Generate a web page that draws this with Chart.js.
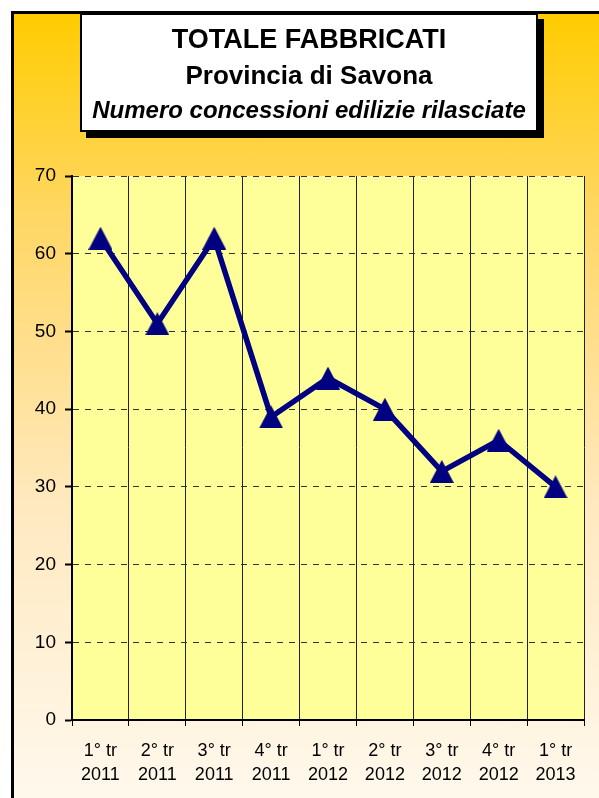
<!DOCTYPE html>
<html>
<head>
<meta charset="utf-8">
<script src="https://cdn.jsdelivr.net/npm/chart.js@4.4.1/dist/chart.umd.min.js"></script>
<style>
  html, body { margin: 0; padding: 0; background: #fff; }
  body { width: 599px; height: 798px; position: relative; overflow: hidden; font-family: "Liberation Sans", Arial, sans-serif; }
  #frame {
    position: absolute; left: 11px; top: 11px; width: 620px; height: 820px;
    border: 3px solid #000;
    background: linear-gradient(to bottom, #ffcc00 0%, #ffd766 25%, #ffe9bf 60%, #fffaf2 100%);
  }
  #title {
    position: absolute; left: 80px; top: 13px; width: 454px; height: 115px;
    background: #fff; border: 2px solid #000; box-shadow: 6px 6px 0 #000;
    text-align: center; color: #000;
  }
  #title .t1 { font-weight: bold; font-size: 27px; margin-top: 8px; line-height: 32px; }
  #title .t2 { font-weight: bold; font-size: 26px; margin-top: 4px; line-height: 32px; }
  #title .t3 { font-weight: bold; font-style: italic; font-size: 24px; margin-top: 3px; line-height: 32px; }
  #wrap { position: absolute; left: 0; top: 0; width: 599px; height: 798px; }
</style>
</head>
<body>
<div id="frame"></div>
<div id="wrap"><canvas id="chart" width="599" height="798"></canvas></div>
<div id="title">
  <div class="t1">TOTALE FABBRICATI</div>
  <div class="t2">Provincia di Savona</div>
  <div class="t3">Numero concessioni edilizie rilasciate</div>
</div>
<script>
  const quarters = ["1° tr", "2° tr", "3° tr", "4° tr", "1° tr", "2° tr", "3° tr", "4° tr", "1° tr"];
  const years = ["2011", "2011", "2011", "2011", "2012", "2012", "2012", "2012", "2013"];
  const concessioni = [62, 51, 62, 39, 44, 40, 32, 36, 30];
  const yTicks = [0, 10, 20, 30, 40, 50, 60, 70];

  const labels = quarters.map((q, i) => [q, years[i]]);

  // Excel-like triangle marker, centred on the point
  const tri = document.createElement("canvas");
  tri.width = 24;
  tri.height = 23;
  {
    const c = tri.getContext("2d");
    c.fillStyle = "#000080";
    c.beginPath();
    c.moveTo(12, 0);
    c.lineTo(24, 23);
    c.lineTo(0, 23);
    c.closePath();
    c.fill();
  }

  const plotBg = {
    id: "plotBg",
    beforeDraw(chart) {
      const { ctx, chartArea: a } = chart;
      ctx.save();
      ctx.fillStyle = "#ffff99";
      ctx.fillRect(a.left, a.top, a.right - a.left, a.bottom - a.top);
      ctx.restore();
    },
  };

  new Chart(document.getElementById("chart"), {
    type: "line",
    data: {
      labels,
      datasets: [{
        data: concessioni,
        borderColor: "#000080",
        backgroundColor: "#000080",
        borderWidth: 5.5,
        pointStyle: tri,
        pointRadius: 12,
        pointHoverRadius: 12,
        tension: 0,
      }],
    },
    options: {
      responsive: false,
      animation: false,
      layout: { autoPadding: false, padding: { top: 176, right: 15, left: 0, bottom: 0 } },
      plugins: { legend: { display: false }, tooltip: { enabled: false } },
      scales: {
        x: {
          offset: true,
          grid: { offset: true, color: "#222", lineWidth: 1, tickLength: 6, tickColor: "#000" },
          border: { color: "#000", width: 2 },
          ticks: { color: "#000", font: { family: "Liberation Sans", size: 18, lineHeight: 1.33 }, padding: 13, maxRotation: 0, autoSkip: false },
          afterFit(s) { s.height = 78; },
        },
        y: {
          min: 0, max: 70,
          afterBuildTicks(s) { s.ticks = yTicks.map((v) => ({ value: v })); },
          grid: { color: "#333", lineWidth: 1, tickLength: 7, tickColor: "#000", tickBorderDash: [0, 0], tickWidth: 2 },
          border: { color: "#000", width: 2, dash: [6, 6] },
          ticks: { color: "#000", font: { family: "Liberation Sans", size: 19 }, padding: 9 },
          afterFit(s) { s.width = 72; },
        },
      },
    },
    plugins: [plotBg],
  });
</script>
</body>
</html>
